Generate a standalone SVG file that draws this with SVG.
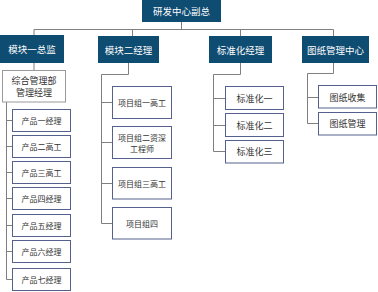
<svg xmlns="http://www.w3.org/2000/svg" width="378" height="292" viewBox="0 0 378 292">
<style>
.bg{fill:#ffffff}
.dark rect{fill:#0f4c72}
.dark text{fill:#ffffff;font-family:"Noto Sans CJK SC","Liberation Sans",sans-serif;font-size:9.5px;text-anchor:middle;dominant-baseline:central}
.leaf rect{fill:#ffffff;stroke:#55608c;stroke-width:1}
.leaf text{fill:#333333;font-family:"Noto Sans CJK SC","Liberation Sans",sans-serif;font-size:8px;text-anchor:middle;dominant-baseline:central}
.mid text{font-size:9px}
.gray rect{stroke:#9a9a9a}
.gray text{font-size:9px}
.conn path{fill:none;stroke:#7f7f7f;stroke-width:1}
</style>
<rect class="bg" x="0" y="0" width="378" height="292"/>
<g class="conn" id="connectors">
<path d="M181.5 22V29.5M34 29.5H333.5M34 29.5V35M132.5 29.5V36M240.5 29.5V36M333.5 29.5V36"/>
<path d="M34 63V70M6.5 102V279.5M6.5 120.5H12M6.5 146.5H12M6.5 172.5H12M6.5 198.5H12M6.5 225.5H12M6.5 251.5H12M6.5 279.5H12"/>
<path d="M128.5 63V74.5H101.5V223.5M101.5 102.5H112M101.5 142.5H112M101.5 183.5H112M101.5 223.5H112"/>
<path d="M240.5 63V74.5H213.5V151.5M213.5 98.5H225M213.5 125.5H225M213.5 151.5H225"/>
<path d="M333.5 63V73.5H307.5V123.5M307.5 97.5H318M307.5 123.5H318"/>
</g>
<g id="n-top" class="dark"><rect x="142" y="0" width="79" height="22"/><text x="181.5" y="11">研发中心副总</text></g>
<g id="n-m1" class="dark"><rect x="0" y="35" width="64" height="28"/><text x="32" y="49">模块一总监</text></g>
<g id="n-m2" class="dark"><rect x="98" y="36" width="61" height="27"/><text x="128.5" y="49.5">模块二经理</text></g>
<g id="n-std" class="dark"><rect x="209" y="36" width="63" height="27"/><text x="240.5" y="49.5">标准化经理</text></g>
<g id="n-draw" class="dark"><rect x="302" y="36" width="67" height="27"/><text x="335.5" y="49.5">图纸管理中心</text></g>
<g id="n-zh" class="leaf gray"><rect x="2.5" y="70.5" width="63" height="31.5"/><text x="34" y="80.5">综合管理部</text><text x="34" y="92.5">管理经理</text></g>
<g id="n-p1" class="leaf"><rect x="12.5" y="109.5" width="58" height="22"/><text x="41.5" y="120.5">产品一经理</text></g>
<g id="n-p2" class="leaf"><rect x="12.5" y="135.5" width="58" height="22"/><text x="41.5" y="146.5">产品二高工</text></g>
<g id="n-p3" class="leaf"><rect x="12.5" y="161.5" width="58" height="22"/><text x="41.5" y="172.5">产品三高工</text></g>
<g id="n-p4" class="leaf"><rect x="12.5" y="187.5" width="58" height="22"/><text x="41.5" y="198.5">产品四经理</text></g>
<g id="n-p5" class="leaf"><rect x="12.5" y="214.5" width="58" height="22"/><text x="41.5" y="225.5">产品五经理</text></g>
<g id="n-p6" class="leaf"><rect x="12.5" y="240.5" width="58" height="22"/><text x="41.5" y="251.5">产品六经理</text></g>
<g id="n-p7" class="leaf"><rect x="12.5" y="268.5" width="58" height="22"/><text x="41.5" y="279.5">产品七经理</text></g>
<g id="n-g1" class="leaf"><rect x="112.5" y="86.5" width="59" height="32"/><text x="142" y="102.5">项目组一高工</text></g>
<g id="n-g2" class="leaf"><rect x="112.5" y="126.5" width="59" height="32"/><text x="142" y="137">项目组二资深</text><text x="142" y="148.5">工程师</text></g>
<g id="n-g3" class="leaf"><rect x="112.5" y="167.5" width="59" height="31.5"/><text x="142" y="183.5">项目组三高工</text></g>
<g id="n-g4" class="leaf"><rect x="112.5" y="207.5" width="59" height="31.5"/><text x="142" y="223.5">项目组四</text></g>
<g id="n-s1" class="leaf mid"><rect x="225.5" y="86.5" width="58" height="23"/><text x="254.5" y="98">标准化一</text></g>
<g id="n-s2" class="leaf mid"><rect x="225.5" y="113.5" width="58" height="23"/><text x="254.5" y="125">标准化二</text></g>
<g id="n-s3" class="leaf mid"><rect x="225.5" y="140.5" width="58" height="22.5"/><text x="254.5" y="151.5">标准化三</text></g>
<g id="n-d1" class="leaf mid"><rect x="318.5" y="85.5" width="58" height="22.5"/><text x="347.5" y="97">图纸收集</text></g>
<g id="n-d2" class="leaf mid"><rect x="318.5" y="112.5" width="58" height="22.5"/><text x="347.5" y="123.5">图纸管理</text></g>
</svg>
